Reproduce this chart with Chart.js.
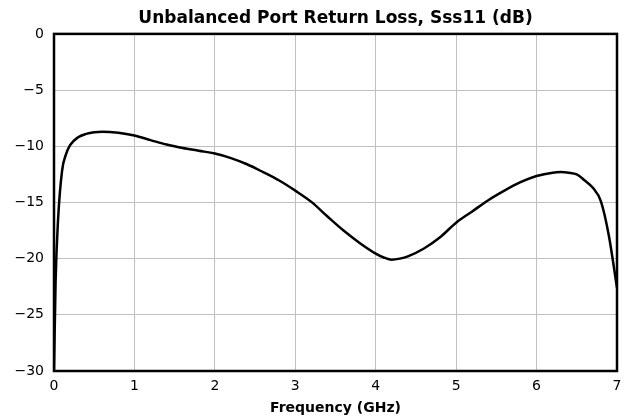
<!DOCTYPE html>
<html>
<head>
<meta charset="utf-8">
<script src="https://cdn.jsdelivr.net/npm/chart.js@4/dist/chart.umd.min.js"></script>
<style>
  html, body { margin: 0; padding: 0; background: #fff; }
  #wrap { width: 629px; height: 418px; }
</style>
</head>
<body>
<div id="wrap"><canvas id="rlChart" width="629" height="418"></canvas></div>
<script>
const freqGHz = [0, 0.02, 0.05, 0.1, 0.15, 0.2, 0.3, 0.4, 0.5, 0.6, 0.8, 1.0, 1.2, 1.4, 1.6, 1.8,
  2.0, 2.2, 2.4, 2.6, 2.8, 3.0, 3.2, 3.4, 3.6, 3.8, 4.0, 4.1, 4.2, 4.3, 4.4, 4.6, 4.8,
  5.0, 5.2, 5.4, 5.6, 5.8, 6.0, 6.2, 6.3, 6.4, 6.5, 6.6, 6.7, 6.8, 6.9, 7.0];
const sss11 = [-30, -22, -16.6, -12.2, -10.7, -9.9, -9.2, -8.9, -8.75, -8.7, -8.8, -9.05, -9.45, -9.85, -10.15, -10.4,
  -10.65, -11.05, -11.6, -12.3, -13.05, -13.95, -14.95, -16.25, -17.5, -18.6, -19.55, -19.9, -20.1, -20.0, -19.8, -19.1, -18.1,
  -16.8, -15.8, -14.8, -13.95, -13.2, -12.65, -12.35, -12.3, -12.35, -12.5, -13.05, -13.7, -14.9, -18.0, -22.6];

const xTicks = [0, 1, 2, 3, 4, 5, 6, 7];
const yTicks = [-30, -25, -20, -15, -10, -5, 0];

const FONT = "'DejaVu Sans', sans-serif";

// thick black frame round the plot area
const frame = {
  id: "frame",
  afterDatasetsDraw(chart) {
    const a = chart.chartArea, ctx = chart.ctx;
    ctx.save();
    ctx.strokeStyle = "#000";
    ctx.lineWidth = 2.5;
    ctx.strokeRect(a.left, a.top, a.right - a.left, a.bottom - a.top);
    ctx.restore();
  }
};

new Chart(document.getElementById("rlChart"), {
  type: "line",
  data: {
    datasets: [{
      label: "Sss11",
      data: freqGHz.map((f, i) => ({ x: f, y: sss11[i] })),
      borderColor: "#000",
      borderWidth: 2.5,
      pointRadius: 0,
      cubicInterpolationMode: "monotone",
      fill: false
    }]
  },
  options: {
    responsive: false,
    animation: false,
    layout: { padding: { left: 0, right: 12, top: 0, bottom: 0 } },
    plugins: {
      legend: { display: false },
      tooltip: { enabled: false },
      title: {
        display: true,
        fullSize: false,
        text: "Unbalanced Port Return Loss, Sss11 (dB)",
        color: "#000",
        font: { family: FONT, size: 17, weight: "bold" },
        padding: { top: 8, bottom: 5.5 }
      }
    },
    scales: {
      x: {
        type: "linear",
        min: 0,
        max: 7,
        afterBuildTicks: s => { s.ticks = xTicks.map(v => ({ value: v })); },
        afterFit: s => { s.height = 47; },
        grid: { color: "#c0c0c0", lineWidth: 1, drawTicks: false },
        border: { display: false },
        ticks: { color: "#000", padding: 7, font: { family: FONT, size: 14 } },
        title: {
          display: true,
          text: "Frequency (GHz)",
          color: "#000",
          font: { family: FONT, size: 14, weight: "bold" },
          padding: { top: 2, bottom: 1 }
        }
      },
      y: {
        min: -30,
        max: 0,
        afterBuildTicks: s => { s.ticks = yTicks.map(v => ({ value: v })); },
        afterFit: s => { s.width = 54; },
        grid: { color: "#c0c0c0", lineWidth: 1, drawTicks: false },
        border: { display: false },
        ticks: {
          color: "#000",
          padding: 10,
          font: { family: FONT, size: 14 },
          callback: v => String(v).replace("-", "\u2212")
        }
      }
    }
  },
  plugins: [frame]
});
</script>
</body>
</html>
